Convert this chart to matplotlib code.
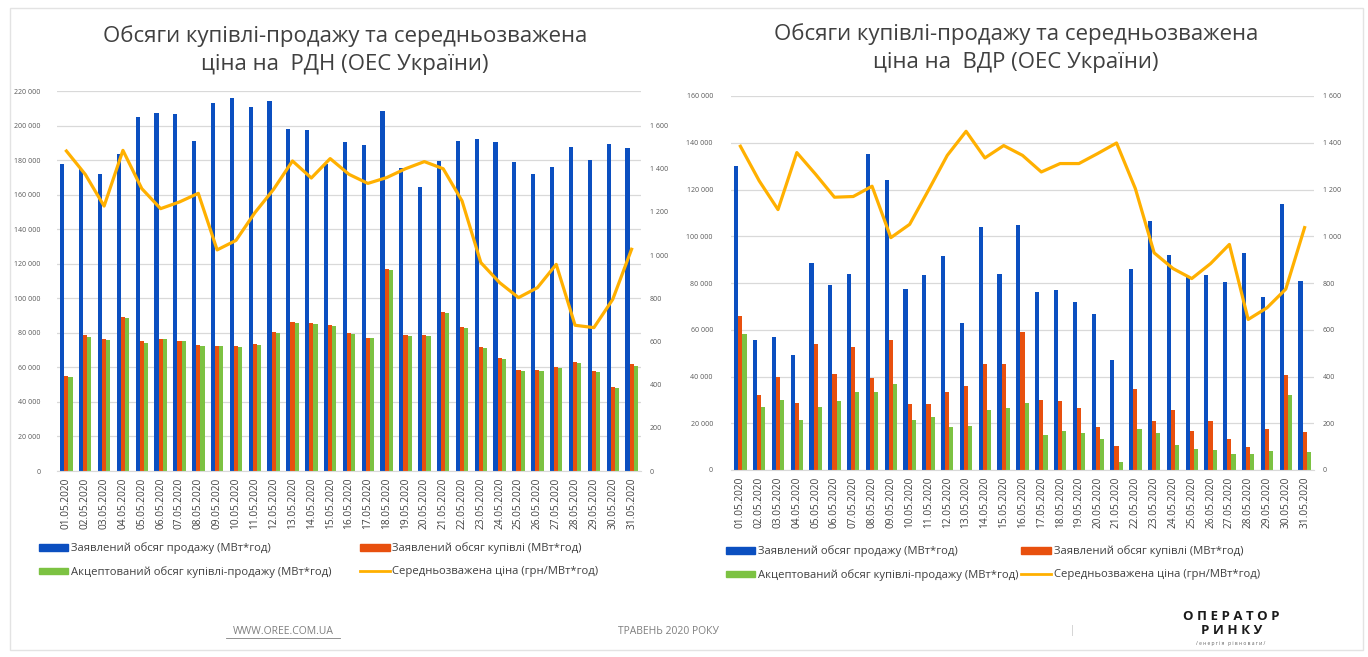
import numpy as np
import matplotlib
matplotlib.use('Agg')
import matplotlib.pyplot as plt
from matplotlib.patches import Patch, Rectangle
from matplotlib.lines import Line2D
from matplotlib.ticker import FuncFormatter, MultipleLocator

plt.rcParams['font.family'] = ['Open Sans', 'Noto Sans', 'DejaVu Sans']

# ─── ДАНІ ────────────────────────────────────────
dates = [f'{d:02d}.05.2020' for d in range(1, 32)]

# РДН
rdn_sell = [177500, 175000, 172000, 183300, 205000, 207000, 206700, 190900,
            213200, 215800, 210500, 214200, 198200, 197400, 177500, 190500,
            188700, 208400, 175400, 164400, 179700, 191000, 192000, 190300,
            178900, 172100, 175800, 187600, 180100, 189300, 186800]
rdn_buy = [55000, 78500, 76200, 89200, 75100, 76600, 75500, 72900,
           72400, 72400, 73700, 80700, 86300, 85700, 84500, 80100,
           77200, 117100, 78700, 78700, 91900, 83200, 71800, 65600,
           58300, 58300, 60000, 62900, 57900, 48600, 61800]
rdn_acc = [54400, 77800, 75800, 88400, 74300, 76200, 75000, 72400,
           72200, 71800, 73200, 80000, 85600, 85200, 83900, 79600,
           76800, 116600, 78200, 78300, 91300, 82600, 71300, 65100,
           57900, 57900, 59600, 62400, 57400, 48100, 60800]
rdn_price = [1482, 1374, 1227, 1485, 1308, 1215, 1246, 1286, 1024, 1068,
             1196, 1305, 1436, 1357, 1447, 1374, 1332, 1359, 1400, 1433,
             1400, 1251, 965, 872, 803, 849, 957, 675, 664, 795, 1027]

# ВДР
vdr_sell = [129900, 55600, 57000, 49300, 88600, 79100, 83900, 135100,
            124000, 77400, 83300, 91500, 62700, 104000, 83800, 105000,
            76100, 76800, 72000, 66700, 47000, 85800, 106600, 91900,
            82600, 83600, 80600, 93000, 74100, 113800, 80900]
vdr_buy = [65800, 32100, 39600, 28800, 54100, 40900, 52700, 39500,
           55800, 28200, 28200, 33500, 36000, 45200, 45300, 59100,
           29900, 29500, 26600, 18200, 10400, 34500, 20800, 25600,
           16800, 21100, 13200, 10000, 17500, 40700, 16100]
vdr_acc = [58100, 27100, 29900, 21400, 27100, 29500, 33200, 33500,
           36800, 21400, 22500, 18200, 18900, 25600, 26400, 28500,
           15000, 16800, 15700, 13100, 3300, 17400, 16000, 10700,
           9000, 8500, 6700, 6800, 8300, 32000, 7800]
vdr_price = [1385, 1237, 1114, 1358, 1265, 1167, 1170, 1214, 994, 1051,
             1197, 1346, 1449, 1335, 1388, 1346, 1275, 1311, 1311, 1354,
             1399, 1204, 929, 862, 819, 883, 965, 644, 694, 774, 1037]

labels = ['Заявлений обсяг продажу (МВт*год)',
          'Заявлений обсяг купівлі (МВт*год)',
          'Акцептований обсяг купівлі-продажу (МВт*год)',
          'Середньозважена ціна (грн/МВт*год)']

C_SELL = '#0B4FC0'
C_BUY = '#E8500E'
C_ACC = '#7CC242'
C_PRICE = '#FFB000'
C_TXT = '#595959'

fmt = FuncFormatter(lambda v, p: f'{int(v):,}'.replace(',', ' '))


def draw(ax, sell, buy, acc, price, ymax, ystep, ymax2, lpad):
    x = np.arange(len(dates))
    w = 0.22
    ax.bar(x - w, sell, w, color=C_SELL, zorder=2)
    ax.bar(x, buy, w, color=C_BUY, zorder=2)
    ax.bar(x + w, acc, w, color=C_ACC, zorder=2)
    ax.set_xlim(-0.5, len(dates) - 0.5)
    ax.set_ylim(0, ymax)
    ax.yaxis.set_major_locator(MultipleLocator(ystep))
    ax.yaxis.set_major_formatter(fmt)
    ax.grid(True, axis='y', color='#D9D9D9', linewidth=0.9, zorder=0)
    ax.set_axisbelow(True)
    for s in ax.spines.values():
        s.set_visible(False)
    ax.spines['bottom'].set_visible(True)
    ax.spines['bottom'].set_color('#D9D9D9')
    ax.set_xticks(x)
    ax.set_xticklabels(dates, rotation=90)
    ax.tick_params(axis='y', length=0, labelsize=5.0, labelcolor=C_TXT, pad=lpad)
    ax.tick_params(axis='x', length=0, pad=5, labelsize=7.3, labelcolor='#404040')

    ax2 = ax.twinx()
    ax2.plot(x, price, color=C_PRICE, linewidth=2.3, zorder=3)
    ax2.set_ylim(0, ymax2)
    ax2.set_yticks(np.arange(0, 1601, 200))
    ax2.yaxis.set_major_formatter(fmt)
    ax2.tick_params(axis='y', length=0, labelsize=5.0, labelcolor=C_TXT, pad=6.5)
    for s in ax2.spines.values():
        s.set_visible(False)


fig = plt.figure(figsize=(13.68, 6.57), dpi=100)
W, H = 1368, 657


def fx(px):
    return px / W


def fy(py):
    return 1 - py / H


# рамка слайду
fig.add_artist(Rectangle((fx(10), fy(650)), fx(1353), (650 - 8) / H,
                         fill=False, edgecolor='#E3E3E3', linewidth=1,
                         transform=fig.transFigure))

ax1 = fig.add_axes([fx(57), fy(471), fx(641 - 57), (471 - 91) / H])
draw(ax1, rdn_sell, rdn_buy, rdn_acc, rdn_price, 220000, 20000, 1760, 12)

ax3 = fig.add_axes([fx(731), fy(470), fx(1314 - 731), (470 - 96) / H])
draw(ax3, vdr_sell, vdr_buy, vdr_acc, vdr_price, 160000, 20000, 1600, 13)

# заголовки
fig.text(fx(345), fy(50), 'Обсяги купівлі-продажу та середньозважена\nціна на  РДН (ОЕС України)',
         ha='center', va='center', fontsize=16, color='#404040', linespacing=1.4)
fig.text(fx(1016), fy(48), 'Обсяги купівлі-продажу та середньозважена\nціна на  ВДР (ОЕС України)',
         ha='center', va='center', fontsize=16, color='#404040', linespacing=1.4)

# легенди
handles = [Patch(color=C_SELL), Patch(color=C_ACC),
           Patch(color=C_BUY), Line2D([], [], color=C_PRICE, linewidth=2)]
hl = [labels[0], labels[2], labels[1], labels[3]]
for x0, y0, cs in [(34, 538, 2.6), (721, 541, 0.3)]:
    fig.legend(handles, hl, loc='upper left', bbox_to_anchor=(fx(x0), fy(y0)),
               ncol=2, frameon=False, fontsize=8.1, handlelength=2.65,
               handleheight=0.5, handletextpad=0.2, columnspacing=cs,
               labelspacing=1.05, labelcolor='#404040', borderaxespad=0)

# нижній колонтитул
fig.text(fx(283), fy(631), 'WWW.OREE.COM.UA', ha='center', va='center',
         fontsize=7.5, color='#7F7F7F')
fig.add_artist(Line2D([fx(226), fx(340)], [fy(638), fy(638)], color='#7F7F7F',
                      linewidth=0.6, transform=fig.transFigure))
fig.text(fx(668), fy(631), 'ТРАВЕНЬ 2020 РОКУ', ha='center', va='center',
         fontsize=7.5, color='#7F7F7F')
fig.text(fx(1072), fy(631), '|', ha='center', va='center',
         fontsize=7, color='#BFBFBF')
fig.text(fx(1231), fy(617), 'О П Е Р А Т О Р', ha='center', va='center',
         fontsize=9.5, fontweight='bold', color='#1A1A1A')
fig.text(fx(1232), fy(631), 'Р И Н К У', ha='center', va='center',
         fontsize=9.5, fontweight='bold', color='#1A1A1A')
fig.text(fx(1231), fy(644), '/ е н е р г і я   р і в н о в а г и /', ha='center',
         va='center', fontsize=3.6, color='#666666')

plt.savefig('out.png', dpi=100)
